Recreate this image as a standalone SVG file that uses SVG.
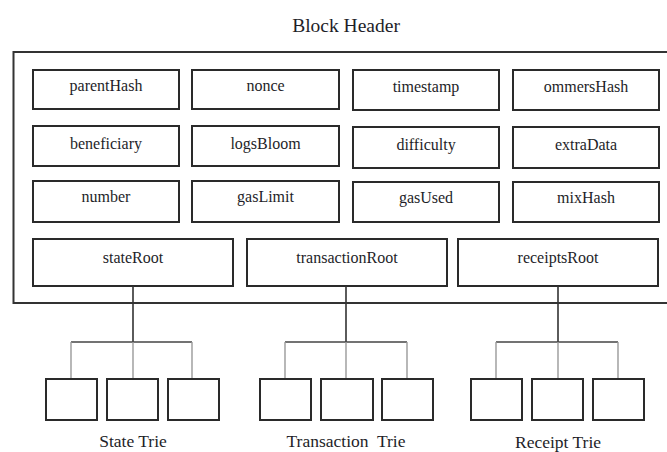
<svg xmlns="http://www.w3.org/2000/svg" width="667" height="452" viewBox="0 0 667 452">
  <style>
    .frame { fill: none; stroke: #333; stroke-width: 2; }
    .box { fill: #fff; stroke: #2a2a2a; stroke-width: 2; }
    .leaf { fill: #fff; stroke: #2a2a2a; stroke-width: 2; }
    .lbl { font-family: "Liberation Serif", "Times New Roman", serif; font-size: 16px; fill: #1e1e28; text-anchor: middle; }
    .title { font-family: "Liberation Serif", "Times New Roman", serif; font-size: 19.5px; fill: #1e1e28; text-anchor: middle; }
    .trie { font-family: "Liberation Serif", "Times New Roman", serif; font-size: 17.5px; fill: #1e1e28; text-anchor: middle; }
    .stem { stroke: #333; stroke-width: 1.6; fill: none; }
    .bar { stroke: #444; stroke-width: 1.4; fill: none; }
    .drop { stroke: #9a9a9a; stroke-width: 1.4; fill: none; }
  </style>

  <rect width="667" height="452" fill="#fff"/>

  <!-- Block header container -->
  <g id="block-header">
    <text class="title" x="346" y="32">Block Header</text>
    <rect class="frame" x="13.5" y="52" width="662" height="251"/>
  </g>

  <!-- Header fields -->
  <g id="parentHash"><rect class="box" x="33" y="70" width="146" height="39"/><text class="lbl" x="106" y="91">parentHash</text></g>
  <g id="nonce"><rect class="box" x="192" y="70" width="147" height="39"/><text class="lbl" x="265.5" y="91">nonce</text></g>
  <g id="timestamp"><rect class="box" x="353" y="70" width="146" height="40"/><text class="lbl" x="426" y="92">timestamp</text></g>
  <g id="ommersHash"><rect class="box" x="513" y="70" width="146" height="40"/><text class="lbl" x="586" y="92">ommersHash</text></g>

  <g id="beneficiary"><rect class="box" x="33" y="126" width="146" height="40"/><text class="lbl" x="106" y="148.5">beneficiary</text></g>
  <g id="logsBloom"><rect class="box" x="192" y="126" width="147" height="40"/><text class="lbl" x="265.5" y="148.5">logsBloom</text></g>
  <g id="difficulty"><rect class="box" x="353" y="127" width="146" height="41"/><text class="lbl" x="426" y="150">difficulty</text></g>
  <g id="extraData"><rect class="box" x="513" y="127" width="146" height="41"/><text class="lbl" x="586" y="150">extraData</text></g>

  <g id="number"><rect class="box" x="33" y="181" width="146" height="41"/><text class="lbl" x="106" y="202">number</text></g>
  <g id="gasLimit"><rect class="box" x="192" y="181" width="147" height="41"/><text class="lbl" x="265.5" y="202">gasLimit</text></g>
  <g id="gasUsed"><rect class="box" x="353" y="182" width="146" height="40"/><text class="lbl" x="426" y="203">gasUsed</text></g>
  <g id="mixHash"><rect class="box" x="513" y="182" width="146" height="40"/><text class="lbl" x="586" y="203">mixHash</text></g>

  <g id="stateRoot"><rect class="box" x="33" y="239" width="200" height="47"/><text class="lbl" x="133" y="263">stateRoot</text></g>
  <g id="transactionRoot"><rect class="box" x="247" y="239" width="200" height="47"/><text class="lbl" x="347" y="263">transactionRoot</text></g>
  <g id="receiptsRoot"><rect class="box" x="458" y="239" width="200" height="47"/><text class="lbl" x="558" y="263">receiptsRoot</text></g>

  <!-- Connectors -->
  <g id="connectors">
    <path class="stem" d="M133 286 V342"/>
    <path class="bar" d="M71 342 H192"/>
    <path class="drop" d="M71 342 V379 M133 342 V379 M192 342 V379"/>

    <path class="stem" d="M346 286 V342"/>
    <path class="bar" d="M285 342 H407"/>
    <path class="drop" d="M285 342 V379 M346 342 V379 M407 342 V379"/>

    <path class="stem" d="M558 286 V342"/>
    <path class="bar" d="M496 342 H618"/>
    <path class="drop" d="M496 342 V379 M558 342 V379 M618 342 V379"/>
  </g>

  <!-- State trie -->
  <g id="state-trie">
    <rect class="leaf" x="46" y="379" width="51" height="41"/>
    <rect class="leaf" x="107" y="379" width="51" height="41"/>
    <rect class="leaf" x="168" y="379" width="51" height="41"/>
    <text class="trie" x="133" y="447">State Trie</text>
  </g>

  <!-- Transaction trie -->
  <g id="transaction-trie">
    <rect class="leaf" x="260" y="379" width="51" height="41"/>
    <rect class="leaf" x="321" y="379" width="52" height="41"/>
    <rect class="leaf" x="382" y="379" width="51" height="41"/>
    <text class="trie" x="346" y="447" xml:space="preserve">Transaction  Trie</text>
  </g>

  <!-- Receipt trie -->
  <g id="receipt-trie">
    <rect class="leaf" x="471" y="379" width="51" height="41"/>
    <rect class="leaf" x="532" y="379" width="51" height="41"/>
    <rect class="leaf" x="593" y="379" width="51" height="41"/>
    <text class="trie" x="558" y="448">Receipt Trie</text>
  </g>
</svg>
